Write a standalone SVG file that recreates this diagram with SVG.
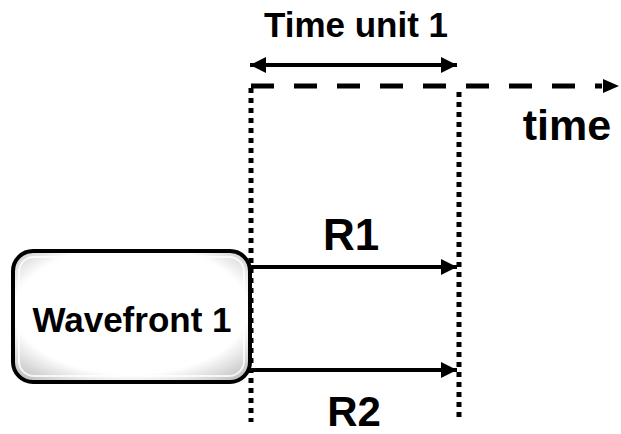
<svg xmlns="http://www.w3.org/2000/svg" width="621" height="434" viewBox="0 0 621 434">
<defs>
<style>
.t{font-family:"Liberation Sans",Arial,sans-serif;font-weight:bold;fill:#000}
.dot{stroke:#000;stroke-width:5;stroke-dasharray:5 5;fill:none}
.ln{stroke:#000;stroke-width:4;fill:none}
</style>
<marker id="ah" viewBox="0 0 10 10" refX="10" refY="5" markerWidth="4.5" markerHeight="4" markerUnits="strokeWidth" orient="auto-start-reverse">
<path d="M0,0L10,5L0,10z" fill="#000"/>
</marker>
<radialGradient id="bg" cx="0.5" cy="0.45" r="0.7">
<stop offset="0.7" stop-color="#fff"/>
<stop offset="1" stop-color="#bdbdbd"/>
</radialGradient>
</defs>
<rect width="621" height="434" fill="#fff"/>
<g id="connectors">
<path class="dot" d="M251,88V422"/>
<path class="dot" d="M459,92V422"/>
<path d="M251,86H602" stroke="#000" stroke-width="5" stroke-dasharray="23 20" fill="none"/>
<path d="M603,79L619,86L603,93z" fill="#000"/>
<path class="ln" d="M250,65H457" marker-start="url(#ah)" marker-end="url(#ah)"/>
<path class="ln" d="M250,267H457" marker-end="url(#ah)"/>
<path class="ln" d="M250,370H457" marker-end="url(#ah)"/>
</g>
<g id="wavefront1">
<rect x="13" y="251" width="237" height="131" rx="20" fill="url(#bg)" stroke="#000" stroke-width="4"/>
<rect x="19" y="257" width="225" height="119" rx="15" fill="none" stroke="#fff" stroke-width="2" opacity="0.8"/>
<text class="t" x="132" y="332" font-size="35" text-anchor="middle">Wavefront 1</text>
</g>
<g id="labels">
<text class="t" x="356" y="37" font-size="35" text-anchor="middle">Time unit 1</text>
<text class="t" x="567" y="140" font-size="43" text-anchor="middle">time</text>
<text class="t" x="351" y="250" font-size="44" text-anchor="middle">R1</text>
<text class="t" x="354" y="426" font-size="42" text-anchor="middle">R2</text>
</g>
</svg>
